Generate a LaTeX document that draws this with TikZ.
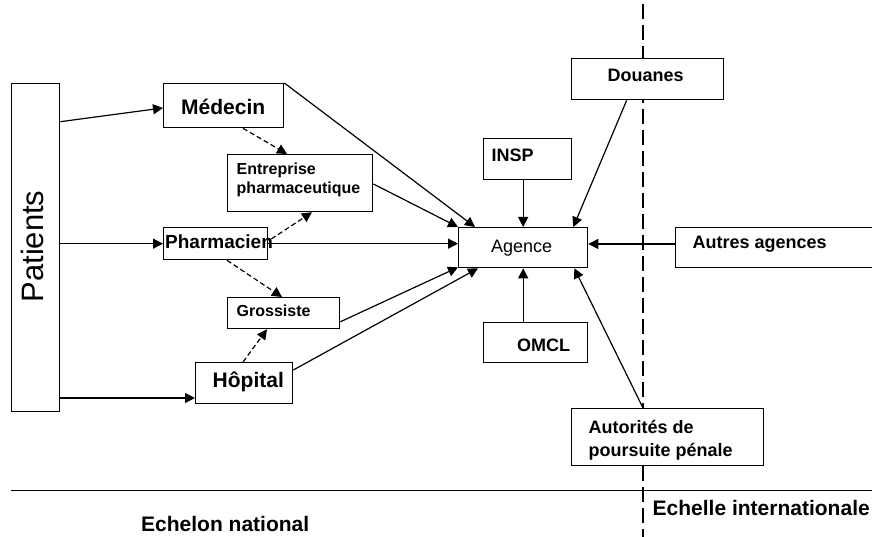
\documentclass[tikz,border=0pt]{standalone}
\usepackage{fontspec}
\setmainfont{Liberation Sans}
\usetikzlibrary{arrows.meta,calc}
\begin{document}
\begin{tikzpicture}[x=1pt,y=1pt,
  box/.style={draw, line width=1.3pt, fill=white, inner sep=0pt, anchor=north west},
  lbl/.style={anchor=base west, inner sep=0pt, font=\bfseries\fontsize{18}{22}\selectfont},
  lblbig/.style={lbl, font=\bfseries\fontsize{21}{25}\selectfont},
  lblsmall/.style={lbl, font=\bfseries\fontsize{16}{19}\selectfont},
  arr/.style={line width=1.2pt, -{Triangle[length=10pt,width=10pt]}},
  darr/.style={arr, dash pattern=on 5pt off 3pt},
]
\useasboundingbox (0,0) rectangle (872,-537);
% frontier lines
\coordinate (vt) at (643,-4);
\coordinate (vb) at (643,-540);
\draw[line width=1.8pt, dash pattern=on 15pt off 6pt] (vt) -- (vb);
\coordinate (hl) at (11,-490.7);
\coordinate (hr) at (875,-490.7);
\draw[line width=1.5pt] (hl) -- (hr);
% boxes
\node[box, minimum width=48, minimum height=328] (patients) at (11,-83) {};
\node[box, minimum width=120, minimum height=44] (medecin) at (163,-83) {};
\node[box, minimum width=145, minimum height=57] (entreprise) at (227,-154) {};
\node[box, minimum width=104, minimum height=32] (pharmacien) at (163,-227) {};
\node[box, minimum width=112, minimum height=31] (grossiste) at (227,-297) {};
\node[box, minimum width=97, minimum height=41] (hopital) at (195,-362) {};
\node[box, minimum width=129, minimum height=40] (agence) at (458,-227) {};
\node[box, minimum width=88, minimum height=41] (insp) at (483,-138) {};
\node[box, minimum width=104, minimum height=40] (omcl) at (483,-322) {};
\node[box, minimum width=152, minimum height=41] (douanes) at (571,-58) {};
\node[box, minimum width=210, minimum height=40] (autres) at (675,-227) {};
\node[box, minimum width=192, minimum height=57] (autorites) at (571,-408) {};
% labels
\node[anchor=base, inner sep=0pt, rotate=90, font=\fontsize{31}{36}\selectfont] (t-patients) at (43.3,-246.5) {Patients};
\node[lblbig] (t-medecin) at (181,-115) {Médecin};
\node[lblsmall] (t-entr1) at (236.5,-175) {Entreprise};
\node[lblsmall] (t-entr2) at (236.5,-193.3) {pharmaceutique};
\node[lbl, font=\bfseries\fontsize{19}{23}\selectfont] (t-pharmacien) at (165,-248.3) {Pharmacien};
\node[lblsmall] (t-grossiste) at (236.5,-316) {Grossiste};
\node[lblbig] (t-hopital) at (212.5,-387.3) {Hôpital};
\node[lbl] (t-insp) at (491.5,-161.7) {INSP};
\node[lbl] (t-omcl) at (517,-351) {OMCL};
\node[lbl, font=\fontsize{18}{22}\selectfont] (t-agence) at (491,-252.3) {Agence};
\node[lbl] (t-douanes) at (607.5,-81.7) {Douanes};
\node[lbl] (t-autres) at (692.5,-248.3) {Autres agences};
\node[lbl] (t-aut1) at (588.5,-433.3) {Autorités de};
\node[lbl] (t-aut2) at (588.5,-456) {poursuite pénale};
\node[lblbig] (t-national) at (141,-531) {Echelon national};
\node[lblbig] (t-inter) at (652.5,-515) {Echelle internationale};
% connectors from patients
\draw[arr] ($(patients.north east)+(0,-38.7)$) -- ($(medecin.west)+(0,-2.3)$);
\draw[arr] (patients.east |- pharmacien.west) -- (pharmacien.west);
\coordinate (hin) at ($(hopital.south west)+(0,6.3)$);
\draw[arr] (patients.east |- hin) -- (hin);
% connectors to agence
\draw[arr] (medecin.north east) -- ($(agence.north west)+(17,0)$);
\draw[arr] ($(entreprise.east)+(0,-0.8)$) -- (agence.north west);
\draw[arr] (pharmacien.east) -- (pharmacien.east -| agence.west);
\draw[arr] ($(grossiste.south east)+(0,7.5)$) -- ($(agence.south west)+(0,1)$);
\draw[arr] ($(hopital.north east)+(0,-8)$) -- ($(agence.south west)+(20,0)$);
\draw[arr] (insp.south -| agence.north) -- (agence.north);
\draw[arr] (omcl.north -| agence.south) -- (agence.south);
\draw[arr] ($(douanes.south west)+(55.7,0)$) -- ($(agence.north east)+(-15,0)$);
\coordinate (ain) at ($(autres.west)+(0,3.7)$);
\draw[arr] (ain) -- (ain -| agence.east);
\draw[arr] ($(autorites.north west)+(72,0)$) -- ($(agence.south east)+(-14,0)$);
% dashed relations
\draw[darr] ($(medecin.south west)+(80,0)$) -- ($(entreprise.north west)+(60,0)$);
\draw[darr] ($(pharmacien.east)+(3,4.7)$) -- ($(entreprise.south west)+(85,0)$);
\draw[darr] ($(pharmacien.south west)+(64,0)$) -- ($(grossiste.north west)+(55,0)$);
\draw[darr] ($(hopital.north west)+(48,0)$) -- ($(grossiste.south west)+(40,0)$);
\end{tikzpicture}
\end{document}
